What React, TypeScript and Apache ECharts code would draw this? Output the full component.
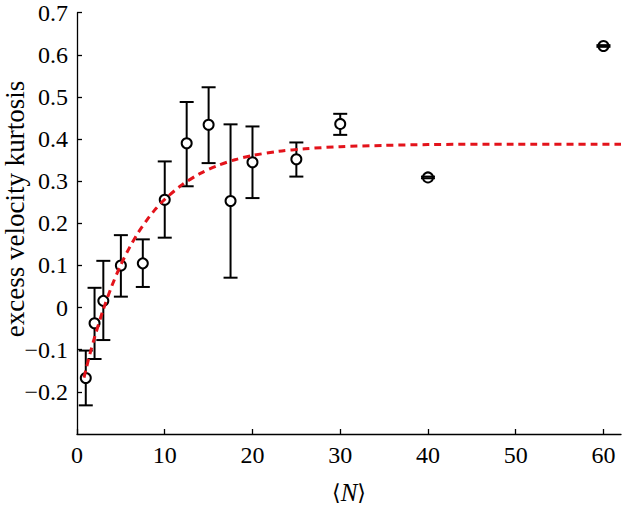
import React, { useEffect, useRef } from "react";
import * as echarts from "echarts";

// Measured points: <N>, mean excess kurtosis, lower and upper error-bar ends
const nValues = [1, 2, 3, 5, 7.5, 10, 12.5, 15, 17.5, 20, 25, 30, 40, 60];
const kurtosis = [-0.167, -0.037, 0.016, 0.1, 0.105, 0.256, 0.39, 0.434, 0.253, 0.345, 0.352, 0.436, 0.309, 0.621];
const errLower = [-0.232, -0.122, -0.077, 0.026, 0.049, 0.166, 0.288, 0.343, 0.071, 0.26, 0.311, 0.41, 0.307, 0.619];
const errUpper = [-0.102, 0.047, 0.111, 0.172, 0.162, 0.347, 0.488, 0.523, 0.435, 0.43, 0.392, 0.46, 0.311, 0.623];

// Fitted curve
const fitX = [0.8, 1, 1.5, 2, 3, 4, 5, 6, 7, 8, 9, 10, 12, 14, 16, 18, 20, 23, 26, 30, 35, 40, 50, 62];
const fitY = [-0.166, -0.149, -0.108, -0.071, -0.004, 0.053, 0.102, 0.143, 0.179, 0.209, 0.235, 0.257, 0.292, 0.318, 0.337, 0.351, 0.361, 0.371, 0.377, 0.382, 0.385, 0.387, 0.388, 0.388];

const xTicks = { min: 0, max: 62, interval: 10 };
const yTicks = { min: -0.3, max: 0.7, interval: 0.1 };

const FONT = "Times New Roman";

export default function App() {
  const ref = useRef<HTMLDivElement>(null);
  useEffect(() => {
    if (!ref.current) return;
    const chart = echarts.init(ref.current, undefined, { renderer: "svg" });
    const barData = nValues.map((x, i) => [x, errLower[i], errUpper[i]]);
    const option: any = {
      animation: false,
      backgroundColor: "#fff",
      grid: { left: 77, right: 1, top: 12.7, bottom: 68.3, containLabel: false },
      xAxis: {
        type: "value",
        min: xTicks.min,
        max: xTicks.max,
        interval: xTicks.interval,
        axisLine: { show: true, onZero: false, lineStyle: { color: "#000", width: 1.3 } },
        axisTick: { show: true, inside: true, length: 5, lineStyle: { color: "#000", width: 1.3 } },
        axisLabel: { color: "#000", fontFamily: FONT, fontSize: 24, margin: 9, showMaxLabel: false },
        splitLine: { show: false },
        name: "{a|\u27E8}{b|N}{a|\u27E9}",
        nameLocation: "middle",
        nameGap: 46,
        nameTextStyle: {
          rich: {
            a: { fontFamily: "DejaVu Serif", fontSize: 22, color: "#000" },
            b: { fontFamily: FONT, fontStyle: "italic", fontSize: 25, color: "#000" },
          },
        },
      },
      yAxis: {
        type: "value",
        min: yTicks.min,
        max: yTicks.max,
        interval: yTicks.interval,
        axisLine: { show: true, onZero: false, lineStyle: { color: "#000", width: 1.3 } },
        axisTick: { show: true, inside: true, length: 5, lineStyle: { color: "#000", width: 1.3 } },
        axisLabel: {
          color: "#000",
          fontFamily: FONT,
          fontSize: 24,
          margin: 9,
          showMinLabel: false,
          formatter: (v: number) => {
            const r = Math.round(v * 10) / 10;
            if (r === 0) return "0";
            return r < 0 ? "\u2212" + Math.abs(r) : String(r);
          },
        },
        splitLine: { show: false },
      },
      graphic: [
        {
          type: "text",
          x: 15,
          y: 209,
          rotation: Math.PI / 2,
          style: {
            text: "excess velocity kurtosis",
            fontFamily: FONT,
            fontSize: 27,
            fill: "#000",
            textAlign: "center",
            textVerticalAlign: "middle",
          },
        },
      ],
      series: [
        {
          type: "custom",
          name: "error bars",
          z: 2,
          encode: { x: 0, y: [1, 2] },
          data: barData,
          renderItem: (params: any, api: any) => {
            const x = api.value(0);
            const lo = api.coord([x, api.value(1)]);
            const hi = api.coord([x, api.value(2)]);
            return {
              type: "line",
              shape: { x1: lo[0], y1: lo[1], x2: hi[0], y2: hi[1] },
              style: { stroke: "#000", lineWidth: 2 },
            };
          },
        },
        {
          type: "scatter",
          name: "mean",
          z: 3,
          data: nValues.map((x, i) => [x, kurtosis[i]]),
          symbol: "circle",
          symbolSize: 10,
          itemStyle: { color: "#fff", borderColor: "#000", borderWidth: 2, opacity: 1 },
        },
        {
          type: "custom",
          name: "caps",
          z: 4,
          encode: { x: 0, y: [1, 2] },
          data: barData,
          renderItem: (params: any, api: any) => {
            const x = api.value(0);
            const lo = api.coord([x, api.value(1)]);
            const hi = api.coord([x, api.value(2)]);
            const w = 7;
            return {
              type: "group",
              children: [
                { type: "line", shape: { x1: lo[0] - w, y1: lo[1], x2: lo[0] + w, y2: lo[1] }, style: { stroke: "#000", lineWidth: 2 } },
                { type: "line", shape: { x1: hi[0] - w, y1: hi[1], x2: hi[0] + w, y2: hi[1] }, style: { stroke: "#000", lineWidth: 2 } },
              ],
            };
          },
        },
        {
          type: "line",
          name: "fit",
          z: 5,
          data: fitX.map((x, i) => [x, fitY[i]]),
          smooth: 0.3,
          showSymbol: false,
          lineStyle: { color: "#e3131b", width: 3, type: [7, 5] },
        },
      ],
    };
    chart.setOption(option);
    return () => chart.dispose();
  }, []);
  return (
    <div
      ref={ref}
      style={{ position: "absolute", left: 0, top: 0, width: 622, height: 510 }}
    />
  );
}
